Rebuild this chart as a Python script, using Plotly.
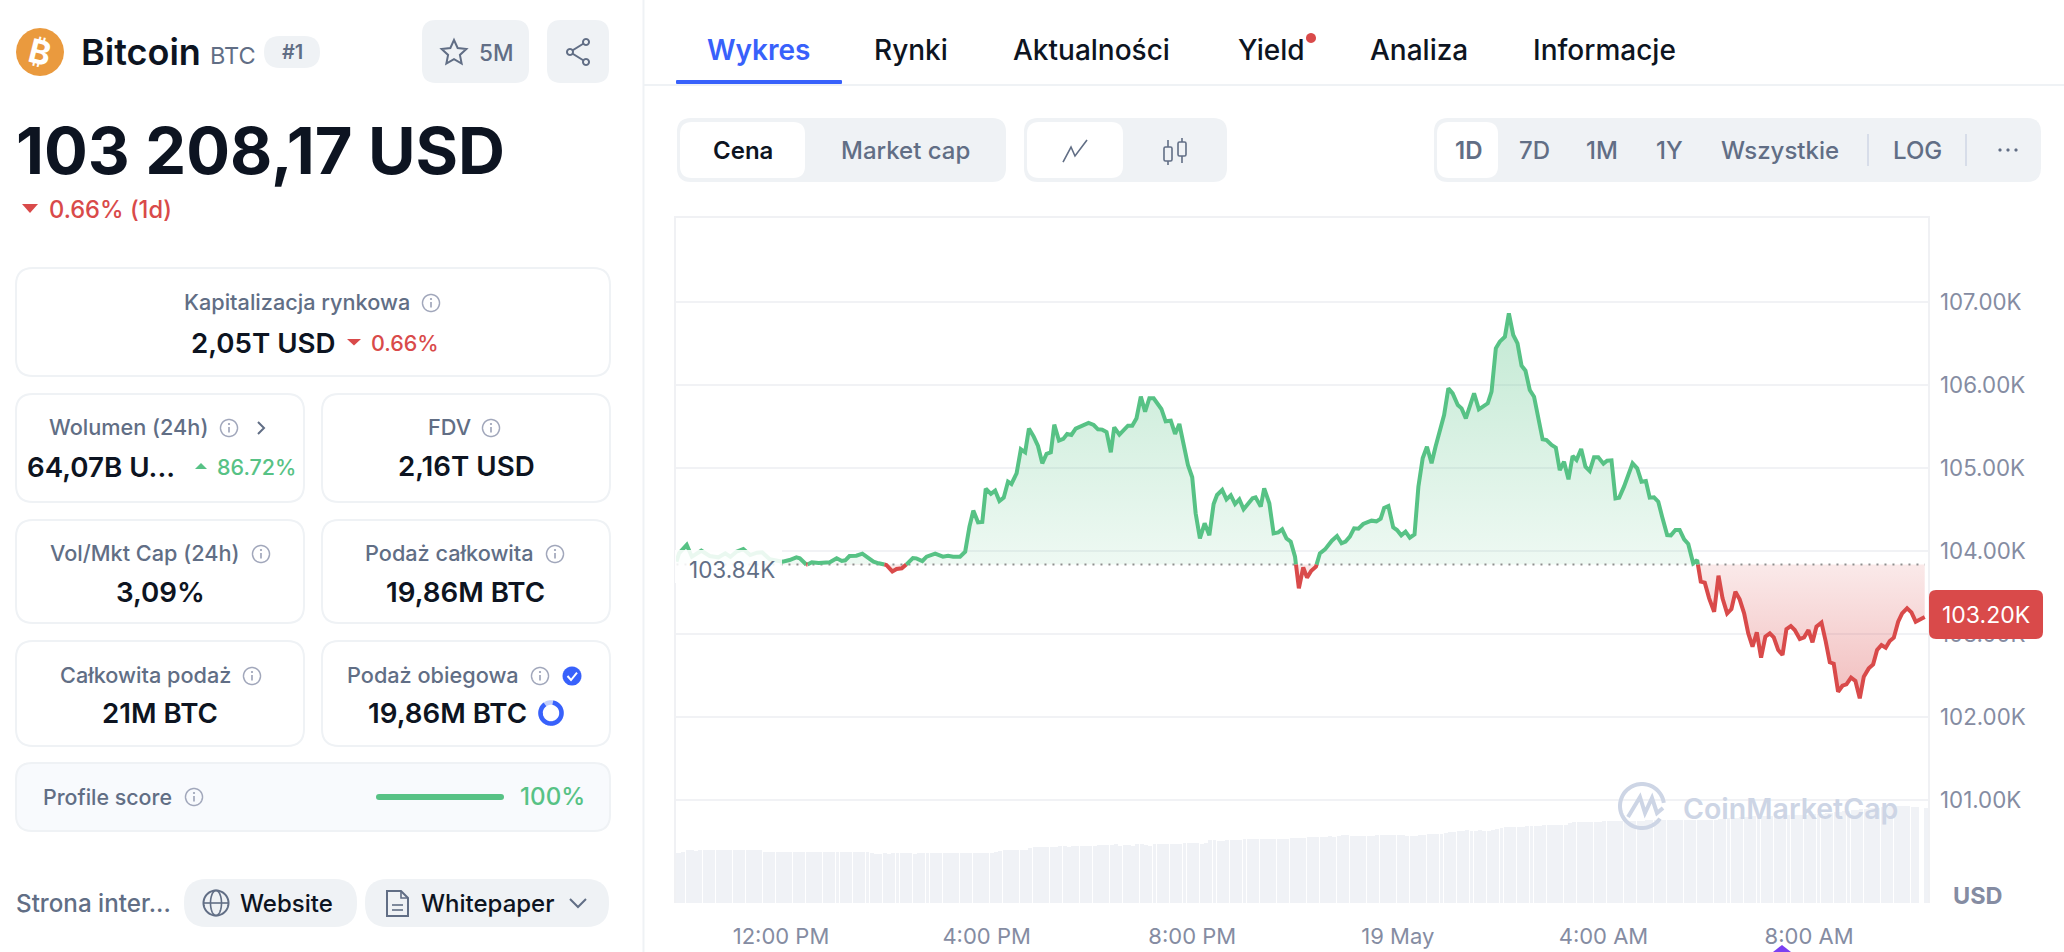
import math
import pandas as pd
import plotly.graph_objects as go

# ---------- data ----------
BASE_PRICE = 103840
START_TIME = "2025-05-18 12:00"
MINUTES = [-122,-119,-110,-104,-93,-83,-73,-65,-59,-52,-44,-36,-28,-22,-13,2,10,18,22,30,36,44,57,65,71,75,80,88,95,101,108,114,123,130,135,141,147,154,158,165,170,180,189,195,201,209,215,
 220,224.5,230,235,239,245,250,255,260,265,269,275,280,285,289.4,295,300,305,310,315,319,324.5,329.5,334,339,344,351,359,365,370,375,380,385,389,395,405,410,415,420,425,430,435,444,449,455,460,465,470,475,480,484,489,494.5,500,505,509,515,520,525,530,535,540,550.5,554,560,564,570,
 575,580.4,585,590,595,600,604.5,609.6,614,619,624.4,629,635,643,649,654.3,659,664,669,674,679.6,689.3,695,700,704,709,714.6,719,724,729,734,739.5,744,749,754,759.4,764,774,779,784,790,794.4,799.4,809,814.6,819.7,825,829.4,834.4,839,845,849.6,854.7,859.7,864.4,869,874,879,884,
 889,893.6,899.4,904.4,909,914,919.2,924,928.6,934,939,944,949,954,960,964.3,969.4,974,978.4,984,994,999.4,1004.4,1009.5,1014,1019,1024,1028.5,1034.4,1038.7,1044,1049,1054.2,1059,1064.7,1069.4,
 1073.6,1078.3,1083.4,1089.2,1094.3,1099,1104.4,1109.4,1114,1119,1124.2,1129,1134,1139,1144,1149,1154.2,1158.8,1164,1169,1173.6,1178.7,1183.3,1189.2,1194.2,1199.3,1204,1208.6,1214.5,1219.5,1224.2,1228.8,1233.9,1239,1243.6,1249,1254.1,1259.2,1263.9,1269.7,1274.8,1279.4,1284.5,1289.5,1294.2,1298.9,1304,1308.6,1314.4,1319.5,1324.5,1335]
PRICES = [103875,103975,104076,103935,104007,103943,103927,103975,103935,103995,104027,103955,103983,103987,103903,103875,103895,103927,103915,103835,103867,103859,103867,103915,103883,103891,103943,103947,103971,103927,103875,103855,103835,103758,103787,103795,103847,103919,103915,103883,103935,103971,103935,103947,103935,103935,103995,
 104297,104490,104349,104353,104755,104691,104731,104606,104646,104839,104811,104940,105229,105193,105478,105382,105269,105060,105173,105193,105526,105333,105354,105414,105402,105478,105510,105546,105522,105470,105466,105438,105193,105494,105406,105514,105514,105603,105864,105683,105844,105844,105715,105566,105574,105414,105534,105261,105040,104892,104458,104156,104337,104193,104570,104679,104739,104626,104675,104570,104626,104506,104638,104650,104538,104759,104578,
 104216,104228,104264,104156,104116,103935,103553,103806,103682,103766,103814,103975,104023,104128,104184,104096,104116,104176,104276,104272,104329,104369,104361,104393,104521,104545,104288,104256,104192,104236,104164,104204,104778,105120,105260,105060,105260,105642,105963,105903,105763,105722,105602,105903,105710,105743,105783,105923,106446,106526,106586,106867,106606,106506,106237,106176,105943,105863,105582,
 105349,105341,105281,105249,104979,105080,104867,105148,105100,105233,105020,104967,105132,105132,105056,105092,105096,104638,104646,104779,105060,105000,104839,104847,104646,104650,104598,104417,104196,104192,104256,104256,104144,104088,103855,103895,
 103634,103622,103433,103272,103706,103433,103252,103304,103513,103421,103252,103011,102850,103023,102718,102971,103011,102963,102810,102750,103063,103099,103051,102943,102963,103051,102903,103091,103140,102911,102662,102645,102308,102380,102396,102477,102437,102228,102489,102589,102637,102810,102870,102838,102919,102959,103152,103252,103312,103264,103152,103208]
VOLUME_START_MIN = -124
VOLUME_STEP_MIN = 5
VOLUME_B = [33.5,33.4,33.9,35.0,35.0,34.7,35.0,35.3,35.3,35.4,
 35.4,35.2,35.3,35.3,35.1,35.2,35.4,35.3,35.3,35.2,
 35.2,33.9,33.8,33.8,33.7,33.8,33.8,33.8,33.8,33.7,
 33.8,33.8,33.7,33.8,33.8,33.8,33.8,33.8,33.7,33.8,
 33.8,33.8,33.8,33.8,33.8,33.8,33.0,32.5,32.7,33.2,
 32.9,33.5,33.0,33.1,33.4,33.5,32.6,33.5,33.6,33.2,
 33.1,33.4,33.4,33.4,33.4,33.5,33.3,33.4,33.1,33.2,
 33.6,33.6,33.6,33.6,33.6,33.7,34.6,35.0,35.0,35.2,
 35.3,35.2,35.0,36.4,37.6,37.0,37.5,37.6,37.3,37.5,
 37.7,37.8,37.6,37.7,37.8,37.9,37.9,38.0,38.3,38.7,
 38.4,38.6,38.9,39.0,38.3,38.6,38.4,38.2,39.1,39.2,
 38.8,38.0,39.2,39.4,39.5,39.6,39.5,39.6,39.5,39.7,
 39.8,39.8,39.8,39.6,40.0,41.8,41.7,41.5,41.6,41.8,
 42.0,42.2,42.3,42.4,42.5,42.5,42.5,42.5,42.5,42.6,
 42.6,42.6,42.6,42.9,43.0,43.0,43.0,43.1,44.0,44.3,
 44.2,44.3,44.3,44.4,44.3,44.6,45.2,45.2,44.8,44.8,
 44.8,44.9,44.9,44.9,45.0,45.2,45.1,45.0,45.2,45.2,
 45.2,44.8,44.9,44.6,45.2,45.5,45.7,45.9,46.0,46.2,
 46.9,47.0,47.2,48.0,48.3,48.4,48.3,48.3,48.4,48.3,
 48.3,48.4,49.0,50.0,50.5,50.6,50.8,50.9,50.9,51.0,
 51.2,51.5,51.2,51.8,52.0,52.0,52.0,52.2,52.1,53.3,
 53.8,53.8,53.9,54.0,54.0,54.1,54.2,54.3,54.5,54.7,
 54.7,54.6,54.7,54.7,54.6,54.7,54.7,55.0,55.0,55.0,
 55.0,55.1,55.0,55.1,55.1,55.2,55.2,55.2,55.3,55.2,
 55.3,55.3,55.4,55.4,56.0,56.2,56.4,56.5,56.8,57.0,
 57.4,57.6,57.7,57.6,57.7,57.8,58.0,58.0,58.1,58.2,
 58.3,58.4,58.5,58.7,58.8,59.0,59.2,59.4,59.6,59.8,
 60.0,60.4,60.7,61.0,61.4,61.8,62.1,62.4,62.7,63.0,
 63.3,63.6,63.9,64.1,64.3,64.5,64.7,64.8,64.6,64.2,63.8,None,63.4]
Y_TICK_VALUES = [101000,102000,103000,104000,105000,106000,107000]
Y_TICK_LABELS = ["101.00K","102.00K","103.00K","104.00K","105.00K","106.00K","107.00K"]
X_TICK_MINUTES = [0,240,480,720,960,1200]
X_TICK_LABELS = ["12:00 PM","4:00 PM","8:00 PM","19 May","4:00 AM","8:00 AM"]

# ---------- style / layout ----------
W, H = 2064, 952
FONT = "Inter"
DARK = "#0d1421"; GRAY = "#616e85"; TICK = "#858ca2"; INFO = "#a1a7bb"
PANEL = "#eff2f5"; BLUE = "#3861fb"; GREEN = "#57c285"; RED = "#d94a4a"
LABEL = 21.7; VALUE = 27.7

def ts(m):
    return pd.Timestamp(START_TIME) + pd.to_timedelta(m, "min")

# insert the crossing of the base price so colours switch exactly on the line
xs, ys = [], []
for i, (m, p) in enumerate(zip(MINUTES, PRICES)):
    if i and (PRICES[i-1] - BASE_PRICE) * (p - BASE_PRICE) < 0:
        f = (BASE_PRICE - PRICES[i-1]) / (p - PRICES[i-1])
        xs.append(MINUTES[i-1] + f * (m - MINUTES[i-1])); ys.append(BASE_PRICE)
    xs.append(m); ys.append(p)
times = [ts(m) for m in xs]
fig = go.Figure()

bar_times = [ts(VOLUME_START_MIN + i * VOLUME_STEP_MIN) for i in range(len(VOLUME_B))]
fig.add_trace(go.Bar(x=bar_times, y=VOLUME_B, yaxis="y2", width=VOLUME_STEP_MIN*60000*0.92,
                     marker=dict(color="#f0f2f6", line_width=0)))
base_y = [BASE_PRICE] * len(times)
fig.add_trace(go.Scatter(x=times, y=base_y, mode="lines", line_width=0))
fig.add_trace(go.Scatter(x=times, y=[max(v, BASE_PRICE) for v in ys], mode="lines", line_width=0, fill="tonexty",
    fillgradient=dict(type="vertical", start=BASE_PRICE, stop=max(PRICES),
        colorscale=[[0,"rgba(87,194,133,0.10)"],[1,"rgba(87,194,133,0.36)"]])))
fig.add_trace(go.Scatter(x=times, y=base_y, mode="lines", line_width=0))
fig.add_trace(go.Scatter(x=times, y=[min(v, BASE_PRICE) for v in ys], mode="lines", line_width=0, fill="tonexty",
    fillgradient=dict(type="vertical", start=min(PRICES), stop=BASE_PRICE,
        colorscale=[[0,"rgba(217,74,74,0.36)"],[1,"rgba(217,74,74,0.12)"]])))
fig.add_trace(go.Scatter(x=[times[0], times[-1]], y=[BASE_PRICE, BASE_PRICE], mode="lines",
    line=dict(color="#8f8f8f", width=2, dash="2px,6px")))
fig.add_trace(go.Scatter(x=times, y=[v if v >= BASE_PRICE else None for v in ys], mode="lines",
    line=dict(color=GREEN, width=4)))
fig.add_trace(go.Scatter(x=times, y=[v if v <= BASE_PRICE else None for v in ys], mode="lines",
    line=dict(color=RED, width=4)))

shapes, notes = [], []
def X(x): return x / W
def Y(y): return 1 - y / H
def path(pts, close=False):
    s = "M " + " L ".join(f"{X(a):.5f},{Y(b):.5f}" for a, b in pts)
    return s + (" Z" if close else "")
def S(d, fill=None, line=None, lw=0, layer="above"):
    shapes.append(dict(type="path", xref="paper", yref="paper", path=d, layer=layer,
                       fillcolor=fill or "rgba(0,0,0,0)", line=dict(color=line or "rgba(0,0,0,0)", width=lw)))
def poly(pts, line=GRAY, lw=2, fill=None, close=False):
    S(path(pts, close), fill, line if lw else None, lw)
def rr(x0, y0, x1, y1, r, fill=None, line=None, lw=0, layer="above"):
    d = (f"M {X(x0+r):.5f},{Y(y0):.5f} L {X(x1-r):.5f},{Y(y0):.5f} Q {X(x1):.5f},{Y(y0):.5f} {X(x1):.5f},{Y(y0+r):.5f} "
         f"L {X(x1):.5f},{Y(y1-r):.5f} Q {X(x1):.5f},{Y(y1):.5f} {X(x1-r):.5f},{Y(y1):.5f} "
         f"L {X(x0+r):.5f},{Y(y1):.5f} Q {X(x0):.5f},{Y(y1):.5f} {X(x0):.5f},{Y(y1-r):.5f} "
         f"L {X(x0):.5f},{Y(y0+r):.5f} Q {X(x0):.5f},{Y(y0):.5f} {X(x0+r):.5f},{Y(y0):.5f} Z")
    S(d, fill, line, lw, layer)
def arc(cx, cy, rx, a0=0, a1=360, ry=None, n=60):
    ry = ry or rx
    return [(cx + rx*math.cos(math.radians(a0+(a1-a0)*i/n)), cy + ry*math.sin(math.radians(a0+(a1-a0)*i/n))) for i in range(n+1)]
def dot(cx, cy, r, fill):
    poly(arc(cx, cy, r, n=24), lw=0, fill=fill, close=True)
def ring(cx, cy, r, line, lw):
    poly(arc(cx, cy, r), line=line, lw=lw, close=True)
def T(x, y, text, size=LABEL, color=GRAY, weight=500, anchor="center", angle=0):
    notes.append(dict(xref="paper", yref="paper", x=X(x), y=Y(y), text=text, showarrow=False, xanchor=anchor,
                      yanchor="middle", textangle=angle, borderpad=0,
                      font=dict(family=FONT, size=size, color=color, weight=weight)))
def info(cx, cy):
    ring(cx, cy, 8.5, INFO, 1.5)
    poly([(cx, cy-1), (cx, cy+4.5)], INFO, 1.7)
    dot(cx, cy-4, 1.1, INFO)

# page dividers
poly([(643.5, 0), (643.5, H)], PANEL, 2)
poly([(643.5, 85), (W, 85)], PANEL, 2)

# header
dot(40, 52, 24, "#ea9a3e")
T(40, 52, "₿", 33, "white", 700, angle=14)
T(80, 52, "Bitcoin", 36, DARK, 600, "left")
T(209, 55, "BTC", 23.5, GRAY, 400, "left")
rr(264, 36, 320, 68, 16, PANEL)
T(292, 52, "#1", 20, GRAY, 600)
rr(422, 20, 529, 83, 14, PANEL)
star = []
for i in range(10):
    r = 13 if i % 2 == 0 else 6.2
    a = math.radians(-90 + 36*i)
    star.append((454 + r*math.cos(a), 53 + r*math.sin(a)))
poly(star, GRAY, 2, close=True)
T(496, 52, "5M", 22.5, GRAY)
rr(547, 20, 609, 83, 14, PANEL)
poly([(586, 42), (570, 52), (586, 62)], GRAY, 2)
for c in [(586, 42), (570, 52), (586, 62)]:
    dot(c[0], c[1], 4, GRAY); dot(c[0], c[1], 2, PANEL)

T(15, 150, "103 208,17 USD", 65, DARK, 700, "left")
poly([(22, 204), (38, 204), (30, 213)], lw=0, fill=RED, close=True)
T(48, 209, "0.66% (1d)", 23.7, RED, 500, "left")

# stat cards
for box in [(16,268,610,376),(16,394,304,502),(322,394,610,502),(16,520,304,623),(322,520,610,623),(16,641,304,746),(322,641,610,746)]:
    rr(*box, 17, "white", PANEL, 2)
T(297, 302, "Kapitalizacja rynkowa"); info(431, 303)
T(190, 343, "2,05T USD", VALUE, DARK, 600, "left")
poly([(347, 339), (361, 339), (354, 345.5)], lw=0, fill=RED, close=True)
T(370, 343, "0.66%", 21.5, RED, 500, "left")
T(128, 427, "Wolumen (24h)"); info(229, 428)
poly([(258, 422), (264, 428), (258, 434)], GRAY, 2)
T(26, 467, "64,07B U...", VALUE, DARK, 600, "left")
poly([(195, 469), (207, 469), (201, 463)], lw=0, fill=GREEN, close=True)
T(216, 467, "86.72%", 21.5, GREEN, 500, "left")
T(449, 427, "FDV"); info(491, 428)
T(466, 466, "2,16T USD", VALUE, DARK, 600)
T(145, 553, "Vol/Mkt Cap (24h)"); info(261, 554)
T(160, 592, "3,09%", VALUE, DARK, 600)
T(449, 553, "Podaż całkowita"); info(555, 554)
T(465, 592, "19,86M BTC", VALUE, DARK, 600)
T(145, 675, "Całkowita podaż"); info(252, 676)
T(160, 713, "21M BTC", VALUE, DARK, 600)
T(433, 675, "Podaż obiegowa"); info(540, 676)
dot(572, 676, 9.5, BLUE)
poly([(567.5, 676), (571, 680), (577, 672.5)], "white", 2)
T(447, 713, "19,86M BTC", VALUE, DARK, 600)
ring(551, 713, 10.5, "#c3cffb", 4.5)
poly(arc(551, 713, 10.5, -80, 235), BLUE, 4.5)

# profile score
rr(16, 763, 610, 831, 16, "#f8fafd", PANEL, 2)
T(42, 797, "Profile score", 21.4, GRAY, 500, "left"); info(194, 797)
rr(376, 794, 504, 800, 3, GREEN)
T(519, 796, "100%", 24.2, GREEN, 500, "left")

# links
T(15, 903, "Strona inter...", 24.2, GRAY, 500, "left")
rr(184, 879, 357, 927, 23, PANEL)
ring(216, 903, 12.5, GRAY, 2)
poly(arc(216, 903, 5.5, ry=12.5), GRAY, 1.6, close=True)
poly([(204, 903), (228, 903)], GRAY, 1.6)
T(239, 903, "Website", 24, DARK, 500, "left")
rr(365, 879, 609, 927, 23, PANEL)
poly([(387, 891), (401, 891), (408, 898), (408, 916), (387, 916)], GRAY, 2, close=True)
poly([(401, 891), (401, 898), (408, 898)], GRAY, 1.6)
poly([(392, 905), (403, 905)], GRAY, 1.6); poly([(392, 910), (403, 910)], GRAY, 1.6)
T(420, 903, "Whitepaper", 24, DARK, 500, "left")
poly([(570, 899), (578, 907), (586, 899)], GRAY, 2)

# tabs
T(759, 50, "Wykres", 28, BLUE, 600)
for cx, label in [(911, "Rynki"), (1091, "Aktualności"), (1271, "Yield"), (1419, "Analiza"), (1604, "Informacje")]:
    T(cx, 50, label, 28, DARK, 500)
dot(1311, 38, 5, RED)
rr(676, 80, 842, 84, 1, BLUE)

# controls
rr(677, 118, 1006, 182, 14, PANEL); rr(680, 122, 805, 178, 12, "white")
T(743, 150, "Cena", 24, DARK, 600); T(905, 150, "Market cap", 24, GRAY, 500)
rr(1024, 118, 1227, 182, 14, PANEL); rr(1027, 122, 1123, 178, 12, "white")
poly([(1063, 162), (1071, 147), (1075, 156), (1087, 140)], GRAY, 1.6)
poly([(1168, 140), (1168, 147)], GRAY, 1.6); poly([(1168, 161), (1168, 165)], GRAY, 1.6)
poly([(1182, 138), (1182, 142)], GRAY, 1.6); poly([(1182, 156), (1182, 163)], GRAY, 1.6)
rr(1164, 147, 1172, 161, 1.5, None, GRAY, 1.6); rr(1178, 142, 1186, 156, 1.5, None, GRAY, 1.6)
rr(1434, 118, 2041, 182, 14, PANEL); rr(1437, 122, 1498, 178, 12, "white")
T(1468, 150, "1D", 24, GRAY, 600)
for cx, label in [(1534, "7D"), (1602, "1M"), (1669, "1Y"), (1780, "Wszystkie"), (1917, "LOG")]:
    T(cx, 150, label, 24, GRAY, 500)
poly([(1868, 134), (1868, 166)], "#cfd6e4", 1.5); poly([(1966, 134), (1966, 166)], "#cfd6e4", 1.5)
for cx in (2000, 2008, 2016):
    dot(cx, 150, 1.6, GRAY)

# chart frame and overlays
poly([(675, 903), (675, 217), (1929, 217), (1929, 903)], "#f0f1f4", 2)
rr(675, 550, 782, 583, 0.1, "rgba(255,255,255,0.88)")
T(732, 569, "103.84K", 22.5, GRAY, 400)
rr(1929, 590, 2043, 639, 7, RED)
T(1986, 615, "103.20K", 23, "white", 400)
T(1978, 895, "USD", 23.5, TICK, 700)
poly([(1773, 952), (1782, 945), (1791, 952)], lw=0, fill="#7b3ff2", close=True)

# watermark
WM = "#cdd5e5"
poly(arc(1642, 806, 22, 35, 352), WM, 4)
poly([(1628, 817), (1640, 797), (1645, 813), (1652, 798), (1657, 813), (1663, 808)], WM, 4)
T(1682, 808, "CoinMarketCap", 28.5, WM, 600, "left")

fig.update_layout(
    width=W, height=H, margin=dict(l=0, r=0, t=0, b=0), autosize=False,
    paper_bgcolor="white", plot_bgcolor="white", showlegend=False, hovermode=False,
    bargap=0, font=dict(family=FONT), shapes=shapes, annotations=notes,
    xaxis=dict(type="date", domain=[X(675), X(1929)], range=[ts(-123.7), ts(1340)],
               showgrid=False, zeroline=False, showline=False, ticks="",
               tickmode="array", tickvals=[ts(m) for m in X_TICK_MINUTES], ticktext=X_TICK_LABELS,
               tickfont=dict(family=FONT, size=22, color=TICK), ticklabelstandoff=18),
    yaxis=dict(domain=[Y(903), Y(217)], range=[99762, 108028], side="right",
               showgrid=True, gridcolor="#f1f2f5", gridwidth=2, zeroline=False, showline=False, ticks="",
               tickmode="array", tickvals=Y_TICK_VALUES, ticktext=Y_TICK_LABELS,
               tickfont=dict(family=FONT, size=22.3, color=TICK), ticklabelstandoff=10),
    yaxis2=dict(domain=[Y(903), Y(217)], overlaying="y", range=[0, 457], visible=False),
)
fig.write_html("out.html", config=dict(displayModeBar=False),
               post_script="document.body.style.margin='0';document.body.style.overflow='hidden';")
